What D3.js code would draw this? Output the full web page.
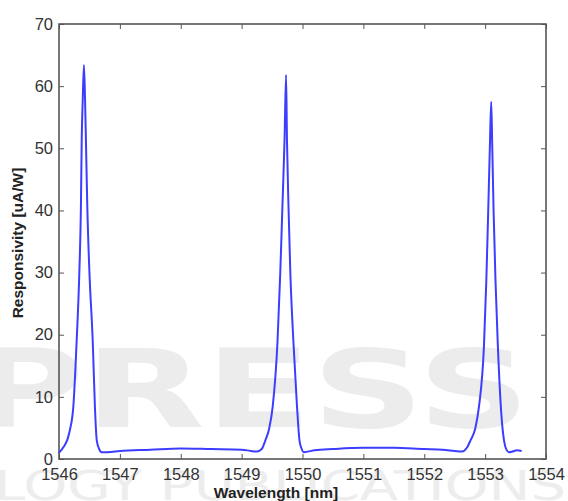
<!DOCTYPE html>
<html>
<head>
<meta charset="utf-8">
<script src="https://cdn.jsdelivr.net/npm/d3@7"></script>
<style>
  html, body { margin: 0; padding: 0; background: #fff; }
  svg { display: block; }
  .tick text { font-family: "Liberation Sans", Arial, Helvetica, sans-serif; }
</style>
</head>
<body>
<div id="view"></div>
<script>
// ---------- Data ----------
const wavelength = [
  1546.00, 1546.08, 1546.14, 1546.18, 1546.235, 1546.29, 1546.334, 1546.36, 1546.373, 1546.39,
  1546.41, 1546.428, 1546.445, 1546.465, 1546.50, 1546.554, 1546.59, 1546.62, 1546.66, 1546.70,
  1546.80, 1547.00, 1547.50, 1548.00, 1548.50, 1549.00, 1549.15, 1549.25, 1549.33, 1549.39,
  1549.45, 1549.51, 1549.59, 1549.635, 1549.67, 1549.705, 1549.73, 1549.745, 1549.77, 1549.80,
  1549.85, 1549.91, 1549.95, 1549.98, 1550.02, 1550.20, 1550.50, 1551.00, 1551.50, 1552.00,
  1552.30, 1552.50, 1552.62, 1552.70, 1552.76, 1552.84, 1552.90, 1552.98, 1553.02, 1553.05,
  1553.078, 1553.10, 1553.117, 1553.14, 1553.17, 1553.21, 1553.265, 1553.31, 1553.35, 1553.39,
  1553.45, 1553.52, 1553.60
];
const responsivity = [
  1.0, 2.0, 3.2, 4.7, 8.4, 19.0, 30.0, 40.6, 51.3, 57.8,
  63.4, 57.8, 50.0, 40.6, 30.0, 19.0, 8.4, 3.0, 1.6, 1.1,
  1.1, 1.3, 1.5, 1.7, 1.6, 1.5, 1.3, 1.2, 1.6, 3.0,
  4.8, 8.4, 19.0, 30.0, 40.6, 51.3, 61.8, 51.3, 40.6, 30.0,
  19.0, 8.4, 3.0, 1.8, 1.1, 1.4, 1.6, 1.8, 1.8, 1.6,
  1.5, 1.3, 1.2, 1.8, 3.0, 5.0, 8.5, 18.0, 28.8, 39.6,
  50.3, 57.5, 50.3, 39.6, 28.8, 18.0, 7.4, 3.0, 1.5, 1.1,
  1.2, 1.4, 1.3
];
const xTicks = [1546, 1547, 1548, 1549, 1550, 1551, 1552, 1553, 1554];
const yTicks = [0, 10, 20, 30, 40, 50, 60, 70];

// ---------- Draw ----------
const W = 568, H = 501;
const M = { t: 24, r: 22, b: 42, l: 59 };
const w = W - M.l - M.r;
const h = H - M.t - M.b;

const svg = d3.select("#view").append("svg")
  .attr("width", W).attr("height", H);

// watermark (faint, behind everything)
const wm = svg.append("g")
  .style("font-family", "'DejaVu Sans', sans-serif");
wm.append("text")
  .attr("x", -30).attr("y", 427)
  .attr("textLength", 560).attr("lengthAdjust", "spacingAndGlyphs")
  .attr("fill", "#ececec")
  .style("font-size", "108px").style("font-weight", "700")
  .text("PRESS");
wm.append("text")
  .attr("x", -6).attr("y", 500)
  .attr("textLength", 572).attr("lengthAdjust", "spacingAndGlyphs")
  .attr("fill", "#ededed")
  .style("font-size", "40px")
  .text("LOGY PUBLICATIONS");

const g = svg.append("g").attr("transform", `translate(${M.l},${M.t})`);

const x = d3.scaleLinear().domain([1546, 1554]).range([0, w]);
const y = d3.scaleLinear().domain([0, 70]).range([h, 0]);

const axisColor = "#555";
const styleAxis = sel => {
  sel.select(".domain").remove();
  sel.selectAll(".tick line").attr("stroke", axisColor).attr("stroke-width", 1);
  sel.selectAll(".tick text").style("font-size", "16.5px").attr("fill", "#333");
};

// bottom / left with labels, ticks pointing inward
g.append("g").attr("transform", `translate(0,${h})`)
  .call(d3.axisBottom(x).tickValues(xTicks).tickFormat(d3.format("d"))
    .tickSizeInner(-5).tickSizeOuter(0).tickPadding(9))
  .call(styleAxis);
g.append("g")
  .call(d3.axisLeft(y).tickValues(yTicks).tickSizeInner(-5).tickSizeOuter(0).tickPadding(6))
  .call(styleAxis);
// top / right mirrored ticks
g.append("g")
  .call(d3.axisTop(x).tickValues(xTicks).tickFormat("").tickSizeInner(-5).tickSizeOuter(0))
  .call(styleAxis);
g.append("g").attr("transform", `translate(${w},0)`)
  .call(d3.axisRight(y).tickValues(yTicks).tickFormat("").tickSizeInner(-5).tickSizeOuter(0))
  .call(styleAxis);

// box
g.append("rect")
  .attr("width", w).attr("height", h)
  .attr("fill", "none").attr("stroke", axisColor).attr("stroke-width", 1.6);

// curve
const pts = wavelength.map((d, i) => [d, responsivity[i]]);
g.append("path")
  .datum(pts)
  .attr("fill", "none")
  .attr("stroke", "#3d3dff")
  .attr("stroke-width", 2)
  .attr("stroke-linejoin", "round")
  .attr("d", d3.line().x(d => x(d[0])).y(d => y(d[1])).curve(d3.curveMonotoneX));

// axis labels
svg.append("text")
  .attr("x", 276).attr("y", 498)
  .attr("text-anchor", "middle")
  .style("font-family", "'Liberation Sans', Arial, sans-serif")
  .style("font-size", "15.5px").style("font-weight", "700").attr("fill", "#222")
  .text("Wavelength [nm]");
svg.append("text")
  .attr("transform", "translate(23,243) rotate(-90)")
  .attr("text-anchor", "middle")
  .style("font-family", "'Liberation Sans', Arial, sans-serif")
  .style("font-size", "15.5px").style("font-weight", "700").attr("fill", "#222")
  .text("Responsivity [uA/W]");
</script>
</body>
</html>
